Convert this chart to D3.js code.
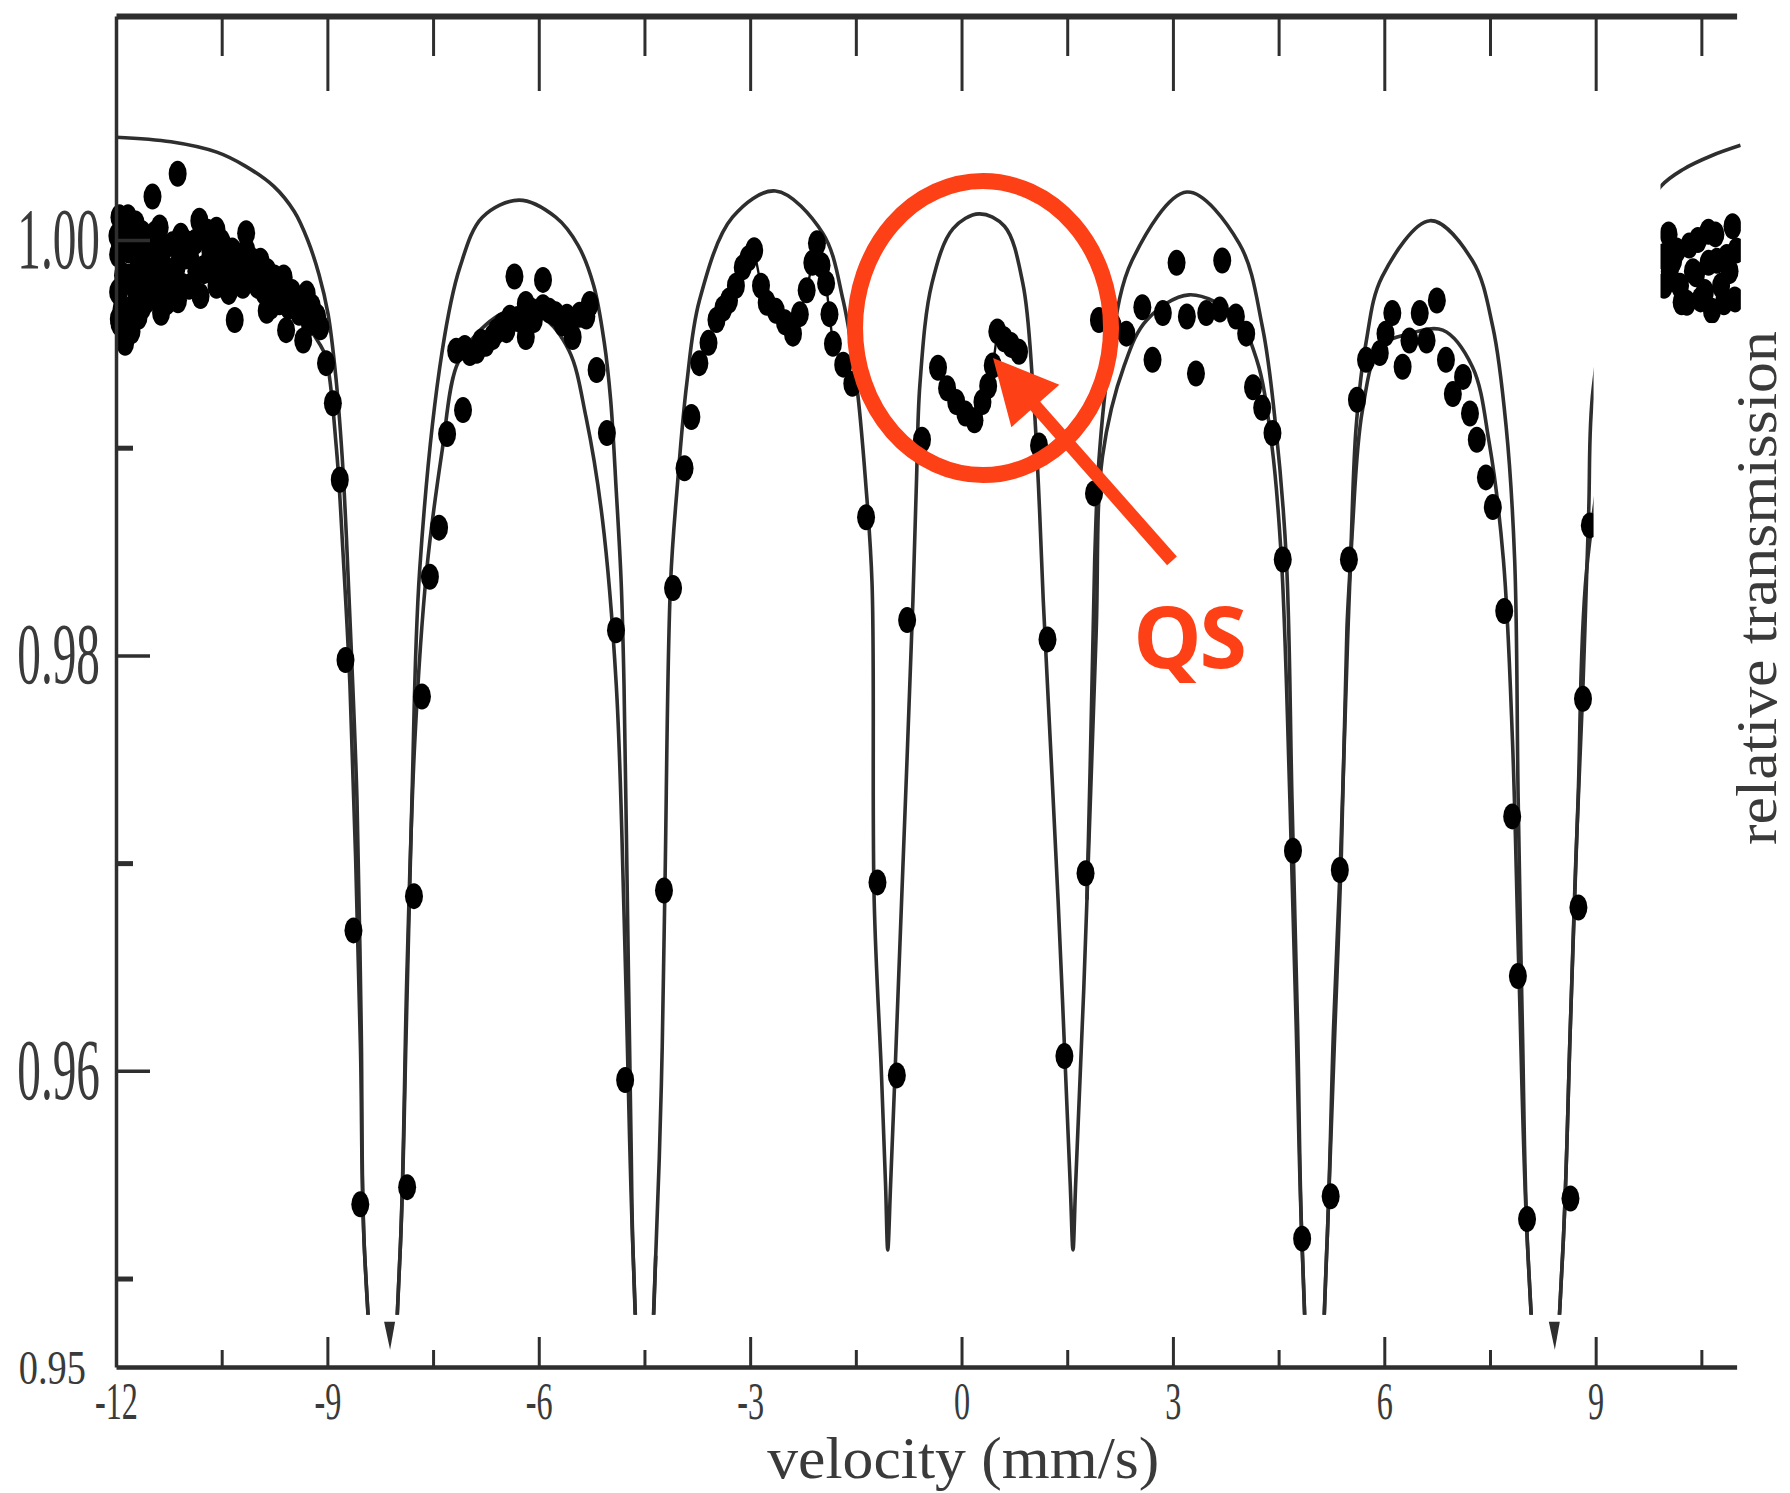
<!DOCTYPE html>
<html>
<head>
<meta charset="utf-8">
<script src="https://cdn.jsdelivr.net/npm/d3@7.9.0/dist/d3.min.js"></script>
<style>
  html, body { margin: 0; padding: 0; background: #fff; }
  svg { display: block; }
</style>
</head>
<body>
<svg id="chart" width="1790" height="1493"></svg>
<script>
// ------------------------------------------------------------
// Data (velocity in mm/s, relative transmission)
// ------------------------------------------------------------
const xMajor = [-12, -9, -6, -3, 0, 3, 6, 9];
const xMinor = [-10.5, -7.5, -4.5, -1.5, 1.5, 4.5, 7.5, 10.5];
const yMajor = [1.00, 0.98, 0.96];
const yMinor = [0.99, 0.97, 0.95];
const yCornerLabel = '0.95';

// upper fitted sextet
const outerFit = [
  [-12.00,1.00495],[-11.22,1.00473],[-10.57,1.00423],[-10.17,1.00357],[-9.76,1.00258],[-9.47,1.00137],
  [-9.28,1.00000],[-9.12,0.99835],[-8.99,0.99643],[-8.88,0.99341],[-8.79,0.98956],[-8.73,0.98571],
  [-8.66,0.98022],[-8.58,0.97308],[-8.52,0.96209],[-8.47,0.95110],[-8.19,0.940],
  [-7.97,0.95110],[-7.88,0.96209],[-7.80,0.97308],[-7.69,0.98412],[-7.37,0.99467],[-7.12,0.99868],
  [-6.80,1.00110],[-6.28,1.00192],[-5.76,1.00110],[-5.44,0.99973],[-5.22,0.99780],[-5.07,0.99505],
  [-4.98,0.99231],[-4.90,0.98791],[-4.83,0.98350],[-4.79,0.97857],[-4.74,0.96758],[-4.69,0.95659],
  [-4.66,0.95110],[-4.50,0.940],
  [-4.34,0.95110],[-4.26,0.95934],[-4.21,0.96870],[-4.13,0.98346],[-4.03,0.98830],[-3.90,0.99308],
  [-3.72,0.99709],[-3.25,1.00110],[-2.64,1.00236],[-1.97,1.00033],[-1.68,0.99709],[-1.49,0.99308],
  [-1.36,0.98830],[-1.27,0.98346],[-1.24,0.96824],[-1.136,0.95980],[-1.078,0.95450],[-1.047,0.95137],
  [-1.007,0.95450],[-0.945,0.95980],[-0.85,0.96824],[-0.69,0.98264],[-0.64,0.98830],[-0.59,0.99308],
  [-0.42,0.99791],[-0.12,1.00055],[0.25,1.00126],[0.61,1.00066],[0.87,0.99791],[1.01,0.99308],
  [1.09,0.98830],[1.16,0.98264],[1.37,0.96824],[1.543,0.95450],[1.582,0.95138],
  [1.619,0.95450],[1.78,0.96824],[1.89,0.98462],[1.95,0.98940],[2.10,0.99423],[2.42,0.99901],
  [3.20,1.00231],[3.94,0.99984],[4.27,0.99582],[4.46,0.99099],[4.61,0.98462],[4.69,0.97308],
  [4.77,0.96209],[4.83,0.95192],[5.01,0.940],
  [5.19,0.95192],[5.30,0.96209],[5.39,0.97033],[5.47,0.98132],[5.52,0.98462],[5.60,0.99099],
  [5.74,0.99505],[5.97,0.99824],[6.65,1.00093],[7.25,0.99901],[7.54,0.99582],[7.73,0.99099],
  [7.85,0.98462],[7.90,0.97308],[7.96,0.96209],[8.04,0.95110],[8.29,0.940],
  [8.53,0.95110],[8.64,0.96209],[8.72,0.97033],[8.82,0.97857],[8.90,0.98681],[8.965,0.99286],
  [9.35,0.99950],[9.922,1.00258],[10.246,1.00341],[10.651,1.00407],[11.056,1.00456]
];

// lower fitted sextet (null = not drawn)
const innerFit = [
  [-12.00,0.99863],[-11.22,0.99835],[-10.41,0.99780],[-9.76,0.99714],[-9.36,0.99615],[-9.12,0.99505],
  [-9.02,0.99434],[-8.87,0.98989],[-8.78,0.98505],[-8.68,0.97857],[-8.60,0.97033],[-8.53,0.96100],
  [-8.47,0.95110],[-8.19,0.940],[-7.97,0.95110],[-7.87,0.96484],[-7.76,0.97582],[-7.59,0.98412],
  [-7.37,0.98989],[-7.17,0.99390],[-6.88,0.99549],[-6.41,0.99659],[-5.94,0.99626],[-5.57,0.99467],
  [-5.33,0.99148],[-5.10,0.98665],[-4.90,0.97857],[-4.79,0.96758],[-4.71,0.95659],[-4.66,0.95110],
  [-4.50,0.940],[-4.34,0.95110],
  null,
  [1.78,0.96824],[1.91,0.98100],[2.00,0.98956],[2.31,0.99396],[2.63,0.99615],[3.23,0.99736],
  [3.89,0.99632],[4.19,0.99423],[4.40,0.99022],[4.54,0.98462],[4.66,0.97308],[4.75,0.96209],
  [4.83,0.95192],[5.01,0.940],[5.19,0.95192],[5.28,0.96209],[5.38,0.97033],[5.48,0.98078],
  [5.55,0.98621],[5.69,0.99181],[5.94,0.99484],[6.36,0.99549],[6.83,0.99566],[7.25,0.99390],
  [7.49,0.99022],[7.69,0.98462],[7.82,0.97582],[7.91,0.96484],[8.04,0.95110],[8.29,0.940],
  [8.53,0.95110],[8.64,0.96209],[8.75,0.97308],[8.87,0.98406],[9.35,0.99505]
];

// measured points
const dataPoints = [
  [-11.125,1.00319],[-11.482,1.00209],[-11.951,1.00110],[-11.951,0.99951],[-11.951,0.99758],[-11.951,0.99599],
  [-11.627,1.00033],[-11.660,0.99868],[-11.627,0.99709],[-11.336,0.99951],[-11.287,0.99758],[-10.963,0.99775],
  [-10.817,1.00093],[-10.995,0.99984],[-10.574,1.00049],[-10.671,0.99901],[-10.428,0.99951],[-10.153,1.00033],
  [-10.056,0.99901],[-10.315,0.99615],[-9.861,0.99659],[-9.861,0.99819],[-9.586,0.99758],[-9.440,0.99676],
  [-9.586,0.99566],[-9.294,0.99742],[-9.148,0.99632],[-9.343,0.99516],[-9.019,0.99407],[-8.922,0.99214],
  [-8.824,0.98846],[-11.806,1.00016],[-11.806,0.99824],[-11.141,0.99868],[-11.482,0.99791],[-11.789,0.99670],
  [-11.465,0.99918],[-10.769,0.99863],[-10.331,0.99835],[-9.764,0.99736],[-9.991,0.99780],[-10.574,0.99780],
  [-11.870,0.99505],
  [-11.93,1.0004],[-11.90,0.9983],[-11.92,0.9967],[-11.85,0.9958],[-11.72,1.0008],[-11.70,0.9992],
  [-11.72,0.9976],[-11.68,0.9963],[-11.55,1.0000],[-11.52,0.9986],[-11.56,0.9971],[-11.38,1.0006],
  [-11.36,0.9991],[-11.40,0.9977],[-11.36,0.9965],[-11.20,0.9998],[-11.18,0.9983],[-11.12,0.9971],
  [-11.02,0.9992],[-10.88,0.9999],[-10.86,0.9985],[-10.80,0.9973],[-10.70,1.0004],[-10.62,0.9990],
  [-10.50,0.9999],[-10.45,0.9986],[-10.40,0.9975],[-10.25,0.9990],[-10.20,0.9978],[-10.10,0.9985],
  [-9.95,0.9990],[-9.90,0.9975],[-9.75,0.9982],[-9.68,0.9970],[-9.50,0.9975],[-9.40,0.9965],
  [-9.22,0.9968],[-9.10,0.9958],
  [-11.98,1.0002],[-11.97,0.9993],[-11.97,0.9975],[-11.96,0.9962],[-11.83,1.0011],[-11.83,0.9995],
  [-11.80,0.9980],[-11.78,0.9956],[-11.62,0.9998],[-11.60,0.9983],[-11.62,0.9968],[-11.45,1.0003],
  [-11.47,0.9974],[-11.30,0.9982],[-11.28,0.9970],[-11.08,1.0002],[-11.06,0.9978],[-10.95,0.9992],
  [-10.92,0.9978],[-10.75,0.9985],[-10.66,0.9995],[-10.55,0.9987],[-10.35,0.9995],[-10.30,0.9980],
  [-10.15,0.9995],[-10.00,0.9982],[-9.85,0.9985],[-9.80,0.9968],[-9.62,0.9982],[-9.55,0.9968],
  [-9.35,0.9972],[-9.25,0.9960],[-9.15,0.9963],
  [-8.743,0.97978],[-8.630,0.96676],[-8.533,0.95357],[-7.868,0.95440],[-7.771,0.96841],[-7.658,0.97802],
  [-7.545,0.98379],[-7.415,0.98615],[-7.301,0.99066],[-7.075,0.99181],
  [-7.172,0.99467],[-6.977,0.99456],[-6.880,0.99467],[-6.751,0.99500],[-6.653,0.99533],[-6.459,0.99566],
  [-6.410,0.99626],[-6.345,0.99824],[-6.184,0.99533],[-6.184,0.99692],[-5.940,0.99676],[-5.940,0.99808],
  [-5.665,0.99599],[-5.519,0.99533],[-5.325,0.99632],[-5.276,0.99692],[-5.179,0.99374],[-5.033,0.99071],
  [-4.904,0.98121],[-4.774,0.95956],[-5.762,0.99643],[-6.070,0.99615],
  [-7.05,0.9948],[-6.82,0.9951],[-6.60,0.9956],[-6.52,0.9959],[-6.30,0.9962],[-6.10,0.9966],
  [-5.85,0.9966],[-5.60,0.9963],[-5.42,0.9964],
  [-4.223,0.96868],[-4.094,0.98324],[-3.931,0.98901],[-3.834,0.99148],[-3.721,0.99407],[-3.591,0.99505],
  [-3.478,0.99615],[-3.381,0.99670],[-3.300,0.99709],[-3.202,0.99780],[-3.105,0.99868],[-3.024,0.99912],
  [-2.943,0.99951],[-2.846,0.99780],[-2.765,0.99698],[-2.635,0.99659],[-2.506,0.99604],[-2.392,0.99549],
  [-2.295,0.99643],[-2.198,0.99758],[-2.117,0.99890],[-2.052,0.99984],[-1.987,0.99879],[-1.922,0.99791],
  [-1.874,0.99643],[-1.825,0.99500],[-1.679,0.99400],[-1.550,0.99308],[-1.355,0.98665],[-1.193,0.96907],
  [-0.918,0.95978],[-0.772,0.98170],[-0.561,0.99038],[-0.334,0.99385],[-0.205,0.99286],[-0.075,0.99220],
  [0.054,0.99165],[0.184,0.99132],[0.297,0.99220],[0.378,0.99297],[0.443,0.99396],[0.508,0.99560],
  [0.605,0.99522],[0.703,0.99495],[0.816,0.99462],
  [1.100,0.99011],[1.220,0.98077],[1.460,0.96071],[1.760,0.96951],[1.880,0.98780],[1.950,0.99615],
  [2.339,0.99549],[2.566,0.99676],[2.711,0.99423],[2.857,0.99648],[3.052,0.99890],[3.198,0.99632],
  [3.327,0.99357],[3.473,0.99648],[3.700,0.99901],[3.667,0.99665],[3.894,0.99632],[4.040,0.99549],
  [4.137,0.99291],[4.267,0.99192],[4.413,0.99071],[4.559,0.98462],[2.144,0.99588],
  [4.704,0.97060],[4.834,0.95192],[5.239,0.95396],[5.369,0.96967],[5.498,0.98462],[5.612,0.99231],
  [5.741,0.99423],[5.936,0.99456],[6.114,0.99648],[6.260,0.99390],[6.357,0.99516],[6.503,0.99648],
  [6.600,0.99516],[6.746,0.99709],[6.875,0.99423],[6.973,0.99258],[7.118,0.99341],[7.216,0.99165],
  [7.313,0.99038],[7.442,0.98857],[7.540,0.98714],[7.702,0.98214],[7.815,0.97225],[7.896,0.96456],
  [8.026,0.95286],[6.017,0.99549],
  [8.642,0.95385],[8.755,0.96786],[8.820,0.97791],[8.917,0.98626],
  [9.950,0.99920],[9.970,0.99780],
  [10.035,1.00027],[10.100,0.99901],[10.197,0.99780],[10.327,0.99973],[10.424,0.99835],[10.489,0.99714],
  [10.602,0.99890],[10.699,1.00027],[10.780,0.99780],[10.861,0.99918],[10.942,1.00066],[10.975,0.99714],
  [10.294,0.99698],[10.650,0.99659],
  [10.05,0.9985],[10.15,0.9995],[10.22,0.9970],[10.38,0.9985],[10.45,1.0000],[10.55,0.9975],
  [10.72,0.9990],[10.82,0.9970],[10.90,0.9985],[11.00,0.9995],[10.60,1.0004]
];

// thin traces joining points
const trace23 = [
  [-3.105,0.99868],[-3.024,0.99912],[-2.943,0.99951],[-2.846,0.99780],[-2.765,0.99698],[-2.635,0.99659],
  [-2.506,0.99604],[-2.392,0.99549],[-2.295,0.99643],[-2.198,0.99758],[-2.117,0.99890],[-2.052,0.99984],
  [-1.987,0.99879],[-1.922,0.99791],[-1.874,0.99643],[-1.825,0.99500]
];
const traceQS = [
  [-0.334,0.99385],[-0.270,0.99330],[-0.205,0.99286],[-0.140,0.99260],[-0.075,0.99220],[0.000,0.99200],
  [0.054,0.99165],[0.120,0.99150],[0.184,0.99132],[0.240,0.99180],[0.297,0.99220],[0.378,0.99297],
  [0.443,0.99396],[0.475,0.99470],[0.508,0.99560],[0.605,0.99522],[0.703,0.99495]
];

// little clipped line tips below the frame
const tipMarks = [-8.11, 8.42];

// ------------------------------------------------------------
// Scales
// ------------------------------------------------------------
const x = d3.scaleLinear().domain([-12, 11]).range([116, 1736.6]);
const y = d3.scaleLinear().domain([0.94574, 1.010785]).range([1367, 16]);
const yClip = 0.94825;

const svg = d3.select('#chart');
const ink = '#2e2e2e';
const textInk = '#3a3a3a';
const red = '#fd4016';

svg.append('defs').append('clipPath').attr('id', 'plot-clip')
  .append('rect')
  .attr('x', x(-12.14))
  .attr('y', y(1.0108))
  .attr('width', x(11.06) - x(-12.14))
  .attr('height', y(yClip) - y(1.0108));

const plot = svg.append('g').attr('clip-path', 'url(#plot-clip)');

const line = d3.line()
  .defined((d) => d !== null)
  .x((d) => x(d[0]))
  .y((d) => y(d[1]))
  .curve(d3.curveCatmullRom.alpha(0.5));

const trace = d3.line().x((d) => x(d[0])).y((d) => y(d[1]));

plot.append('path').datum(outerFit)
  .attr('d', line).attr('fill', 'none').attr('stroke', ink).attr('stroke-width', 3.6);

plot.append('path').datum(innerFit)
  .attr('d', line).attr('fill', 'none').attr('stroke', ink).attr('stroke-width', 3.6);

[trace23, traceQS].forEach((t) => {
  plot.append('path').datum(t)
    .attr('d', trace).attr('fill', 'none').attr('stroke', '#111').attr('stroke-width', 2.4);
});

plot.selectAll('ellipse.pt')
  .data(dataPoints)
  .join('ellipse')
  .attr('class', 'pt')
  .attr('cx', (d) => x(d[0]))
  .attr('cy', (d) => y(d[1]))
  .attr('rx', 9)
  .attr('ry', 13)
  .attr('fill', '#000');

// tips of the deep lines, shown under the cut
svg.selectAll('path.tip')
  .data(tipMarks)
  .join('path')
  .attr('class', 'tip')
  .attr('d', (d) => {
    const cx = x(d);
    const top = y(yClip) + 7;
    return `M${cx - 6},${top} L${cx + 5},${top} L${cx},${top + 28} Z`;
  })
  .attr('fill', ink);

// white patches over the right edge
svg.append('rect')
  .attr('x', x(8.97)).attr('y', y(1.0068))
  .attr('width', x(9.92) - x(8.97)).attr('height', y(yClip) - y(1.0068) + 2)
  .attr('fill', '#fff');
svg.append('rect')
  .attr('x', x(9.92)).attr('y', y(0.9960))
  .attr('width', 1790 - x(9.92)).attr('height', y(yClip) - y(0.9960) + 2)
  .attr('fill', '#fff');

// ------------------------------------------------------------
// Axes
// ------------------------------------------------------------
const bottom = svg.append('g')
  .attr('transform', `translate(0,${y.range()[0]})`)
  .attr('color', ink)
  .call(d3.axisBottom(x).tickValues(xMajor).tickSizeInner(-30).tickSizeOuter(0)
    .tickPadding(15).tickFormat((d) => String(d)));
bottom.select('.domain').attr('stroke-width', 4.5);
bottom.selectAll('.tick line').attr('stroke-width', 3);
bottom.selectAll('.tick text')
  .attr('font-family', '"Liberation Serif", serif')
  .attr('font-size', 52)
  .attr('fill', textInk)
  .attr('transform', 'scale(0.62,1)');

const bottomMinor = svg.append('g')
  .attr('transform', `translate(0,${y.range()[0]})`)
  .attr('color', ink)
  .call(d3.axisBottom(x).tickValues(xMinor).tickSizeInner(-17).tickSizeOuter(0).tickFormat(''));
bottomMinor.select('.domain').remove();
bottomMinor.selectAll('.tick line').attr('stroke-width', 3);

const topMajor = svg.append('g')
  .attr('transform', `translate(0,${y.range()[1]})`)
  .attr('color', ink)
  .call(d3.axisTop(x).tickValues(xMajor.filter((d) => d > -12)).tickSizeInner(-75).tickSizeOuter(0).tickFormat(''));
topMajor.select('.domain').attr('stroke-width', 6);
topMajor.selectAll('.tick line').attr('stroke-width', 3);

const topMinor = svg.append('g')
  .attr('transform', `translate(0,${y.range()[1]})`)
  .attr('color', ink)
  .call(d3.axisTop(x).tickValues(xMinor).tickSizeInner(-40).tickSizeOuter(0).tickFormat(''));
topMinor.select('.domain').remove();
topMinor.selectAll('.tick line').attr('stroke-width', 3);

const left = svg.append('g')
  .attr('transform', `translate(${x.range()[0]},0)`)
  .attr('color', ink)
  .call(d3.axisLeft(y).tickValues(yMajor).tickSizeInner(-34).tickSizeOuter(0).tickFormat(d3.format('.2f')));
left.select('.domain').attr('stroke-width', 3.5);
left.selectAll('.tick line').attr('stroke-width', 3.5);
left.selectAll('.tick text')
  .attr('x', 0)
  .attr('font-family', '"Liberation Serif", serif')
  .attr('font-size', 86)
  .attr('fill', textInk)
  .attr('transform', 'translate(-16,0) scale(0.55,1)');

const leftMinor = svg.append('g')
  .attr('transform', `translate(${x.range()[0]},0)`)
  .attr('color', ink)
  .call(d3.axisLeft(y).tickValues(yMinor).tickSizeInner(-17).tickSizeOuter(0).tickFormat(''));
leftMinor.select('.domain').remove();
leftMinor.selectAll('.tick line').attr('stroke-width', 5);

// corner label at the frame origin
svg.append('text')
  .attr('transform', `translate(${x(-12) - 30},${y.range()[0]}) scale(0.8,1)`)
  .attr('dy', '0.35em')
  .attr('text-anchor', 'end')
  .attr('font-family', '"Liberation Serif", serif')
  .attr('font-size', 48)
  .attr('fill', textInk)
  .text(yCornerLabel);

// axis titles
svg.append('text')
  .attr('x', (x(-12) + x(11)) / 2 + 37)
  .attr('y', 1478)
  .attr('text-anchor', 'middle')
  .attr('font-family', '"Liberation Serif", serif')
  .attr('font-size', 60)
  .attr('textLength', 392)
  .attr('lengthAdjust', 'spacingAndGlyphs')
  .attr('fill', textInk)
  .text('velocity (mm/s)');

svg.append('text')
  .attr('transform', 'translate(1776,588) rotate(-90)')
  .attr('text-anchor', 'middle')
  .attr('font-family', '"Liberation Serif", serif')
  .attr('font-size', 58)
  .attr('textLength', 514)
  .attr('lengthAdjust', 'spacingAndGlyphs')
  .attr('fill', textInk)
  .text('relative transmission');

// ------------------------------------------------------------
// QS annotation
// ------------------------------------------------------------
const qsCentre = [0.305, 0.99576];
const arrowTail = [2.987, 0.98455];
const arrowTip = [0.447, 0.99432];
const qsLabelAt = [3.229, 0.9794];

svg.append('ellipse')
  .attr('cx', x(qsCentre[0])).attr('cy', y(qsCentre[1]))
  .attr('rx', 128).attr('ry', 147)
  .attr('fill', 'none').attr('stroke', red).attr('stroke-width', 16);

const tx = x(arrowTail[0]), ty = y(arrowTail[1]);
const hx = x(arrowTip[0]), hy = y(arrowTip[1]);
const len = Math.hypot(hx - tx, hy - ty);
const ux = (hx - tx) / len, uy = (hy - ty) / len;
const headLen = 64, headHalf = 32;
const bx = hx - ux * headLen, by = hy - uy * headLen;

svg.append('line')
  .attr('x1', tx).attr('y1', ty).attr('x2', bx + ux * 4).attr('y2', by + uy * 4)
  .attr('stroke', red).attr('stroke-width', 13);
svg.append('path')
  .attr('d', `M${hx},${hy} L${bx - uy * headHalf},${by + ux * headHalf} L${bx + uy * headHalf},${by - ux * headHalf} Z`)
  .attr('fill', red);

svg.append('text')
  .attr('x', x(qsLabelAt[0])).attr('y', y(qsLabelAt[1]))
  .attr('text-anchor', 'middle')
  .attr('font-family', '"Open Sans", "Noto Sans", sans-serif')
  .attr('font-weight', 700)
  .attr('font-size', 86)
  .attr('letter-spacing', -2)
  .attr('fill', red)
  .text('QS');
</script>
</body>
</html>
